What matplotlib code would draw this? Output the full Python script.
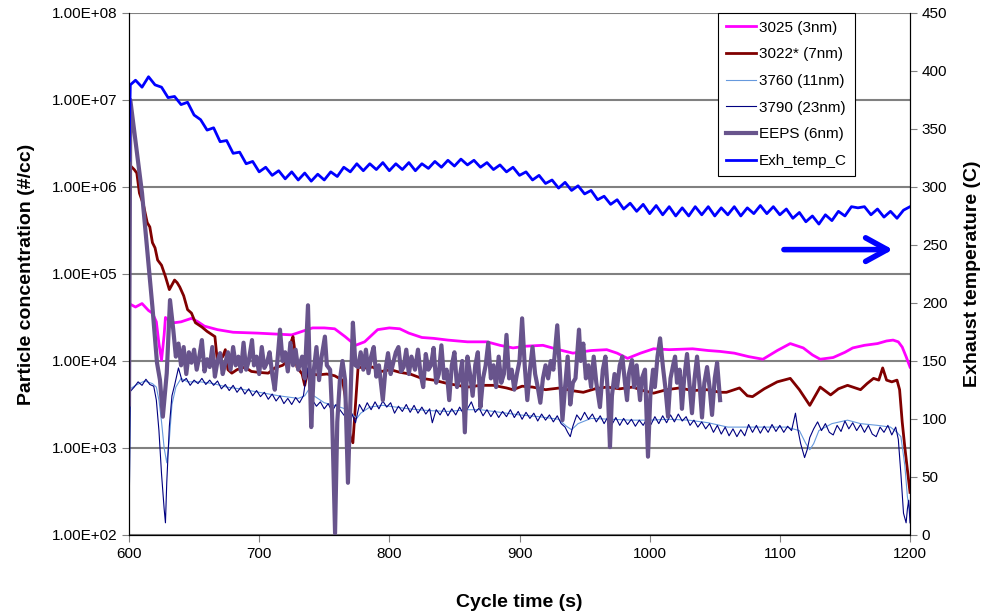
import numpy as np
import matplotlib
matplotlib.use("Agg")
import matplotlib.pyplot as plt
from matplotlib.ticker import FuncFormatter, FixedLocator, NullLocator

plt.rcParams["font.family"] = ["Liberation Sans", "DejaVu Sans"]

# particle concentrations are stored as log10(#/cc)
T_3025 = [600, 605, 610, 615, 618, 621, 623, 625, 627, 628, 632, 635, 640, 648, 653, 658, 668, 680,
          699, 712, 725, 735, 741, 750, 758, 766, 774, 781, 791, 800, 808, 815, 825, 834, 845, 860,
          875, 885, 895, 905, 918, 930, 941, 955, 967, 975, 983, 993, 1003, 1015, 1033, 1045, 1054,
          1065, 1076, 1087, 1098, 1108, 1118, 1125, 1131, 1141, 1150, 1156, 1165, 1175, 1182, 1187,
          1191, 1194, 1197, 1200]
LOG_3025 = [4.66, 4.62, 4.66, 4.58, 4.55, 4.45, 4.20, 4.01, 4.30, 4.50, 4.45, 4.44, 4.45, 4.49, 4.45,
            4.40, 4.36, 4.33, 4.32, 4.31, 4.30, 4.35, 4.38, 4.38, 4.37, 4.28, 4.18, 4.22, 4.36, 4.38,
            4.37, 4.32, 4.27, 4.26, 4.24, 4.22, 4.22, 4.18, 4.15, 4.17, 4.18, 4.13, 4.09, 4.12, 4.13,
            4.09, 4.03, 4.09, 4.14, 4.13, 4.14, 4.12, 4.11, 4.09, 4.05, 4.02, 4.12, 4.20, 4.15, 4.07,
            4.02, 4.04, 4.10, 4.15, 4.18, 4.20, 4.23, 4.24, 4.22, 4.16, 4.05, 3.93]

T_3022 = [600, 602, 604, 606, 608, 611, 614, 616, 618, 620, 622, 625, 628, 631, 635, 637, 639, 642,
          645, 648, 651, 656, 660, 666, 668, 672, 674, 676, 679, 683, 689, 694, 699, 707, 712, 718,
          722, 725, 726, 729, 733, 735, 737, 745, 752, 758, 764, 766, 768, 770, 772, 774, 776, 781,
          787, 794, 801, 808, 816, 825, 834, 845, 860, 870, 880, 890, 895, 902, 910, 920, 931, 940,
          949, 958, 967, 977, 987, 995, 1003, 1013, 1023, 1033, 1044, 1054, 1059, 1069, 1075, 1079,
          1088, 1098, 1108, 1115, 1123, 1131, 1139, 1145, 1152, 1162, 1167, 1172, 1176, 1179, 1182,
          1186, 1190, 1192, 1194, 1196, 1198, 1200]
LOG_3022 = [6.26, 6.23, 6.20, 6.16, 5.93, 5.80, 5.59, 5.54, 5.36, 5.30, 5.16, 5.10, 4.97, 4.82, 4.93,
            4.90, 4.85, 4.75, 4.59, 4.55, 4.44, 4.39, 4.34, 4.28, 3.98, 4.05, 4.13, 3.90, 3.86, 3.90,
            3.93, 3.88, 3.87, 3.86, 3.92, 3.95, 4.00, 4.24, 4.28, 3.93, 3.85, 3.72, 3.86, 3.84, 3.85,
            3.83, 3.78, 3.60, 3.30, 3.13, 3.06, 3.50, 3.93, 3.92, 3.93, 3.88, 3.90, 3.87, 3.85, 3.80,
            3.78, 3.74, 3.70, 3.72, 3.72, 3.69, 3.67, 3.71, 3.70, 3.67, 3.69, 3.66, 3.64, 3.68, 3.70,
            3.68, 3.70, 3.66, 3.63, 3.67, 3.69, 3.66, 3.67, 3.64, 3.64, 3.69, 3.60, 3.59, 3.68, 3.76,
            3.80, 3.67, 3.49, 3.70, 3.61, 3.68, 3.72, 3.67, 3.74, 3.80, 3.78, 3.92, 3.78, 3.76, 3.78,
            3.67, 3.30, 3.01, 2.75, 2.49]

T_3760 = [600, 601, 605, 612, 618, 621, 623, 625, 627, 629, 631, 633, 636, 640, 645, 655, 665, 675,
          685, 700, 715, 730, 735, 738, 742, 750, 760, 768, 772, 775, 778, 785, 795, 805, 815, 830,
          845, 860, 870, 885, 900, 915, 930, 936, 940, 945, 955, 970, 985, 1000, 1015, 1030, 1045,
          1060, 1075, 1090, 1105, 1115, 1120, 1123, 1126, 1130, 1140, 1152, 1162, 1175, 1185, 1190,
          1193, 1196, 1198, 1200]
LOG_3760 = [2.00, 3.68, 3.72, 3.77, 3.74, 3.70, 3.55, 3.30, 3.00, 2.83, 3.10, 3.50, 3.70, 3.80, 3.76,
            3.76, 3.74, 3.70, 3.68, 3.64, 3.60, 3.57, 3.60, 3.67, 3.60, 3.52, 3.48, 3.44, 3.38, 3.34,
            3.40, 3.47, 3.49, 3.47, 3.45, 3.43, 3.42, 3.44, 3.44, 3.41, 3.38, 3.36, 3.33, 3.25, 3.21,
            3.28, 3.34, 3.33, 3.32, 3.32, 3.33, 3.32, 3.29, 3.24, 3.24, 3.24, 3.24, 3.20, 3.05, 2.98,
            3.05, 3.20, 3.28, 3.32, 3.28, 3.26, 3.24, 3.18, 3.13, 2.80, 2.44, 2.25]

T_3790 = [600, 601, 604, 607, 610, 613, 616, 619, 621, 623, 625, 627, 628, 629, 631, 633, 635, 638,
          641, 644, 647, 650, 653, 656, 659, 662, 665, 668, 671, 674, 677, 680, 683, 686, 689, 692,
          695, 698, 701, 704, 707, 710, 713, 716, 719, 722, 725, 728, 731, 734, 737, 739, 741, 744,
          747, 750, 753, 756, 759, 762, 765, 768, 771, 774, 777, 780, 783, 786, 789, 792, 795, 798,
          801, 804, 807, 810, 813, 816, 819, 822, 825, 828, 831, 833, 836, 839, 842, 845, 848, 851,
          854, 857, 860, 863, 866, 869, 872, 875, 878, 881, 884, 887, 890, 893, 896, 899, 902, 905,
          908, 911, 914, 917, 920, 923, 926, 929, 932, 935, 937, 939, 941, 944, 947, 950, 953, 956,
          959, 962, 965, 968, 971, 974, 977, 980, 983, 986, 989, 992, 995, 998, 1001, 1004, 1007,
          1010, 1013, 1016, 1019, 1022, 1025, 1028, 1031, 1034, 1037, 1040, 1043, 1046, 1049, 1052,
          1055, 1058, 1061, 1064, 1067, 1070, 1073, 1076, 1079, 1082, 1085, 1088, 1091, 1094, 1097,
          1100, 1103, 1106, 1109, 1112, 1114, 1116, 1119, 1121, 1123, 1126, 1129, 1132, 1135, 1138,
          1141, 1144, 1147, 1150, 1153, 1156, 1159, 1162, 1165, 1168, 1171, 1174, 1177, 1180, 1183,
          1186, 1189, 1191, 1193, 1195, 1197, 1198, 1199, 1200]
LOG_3790 = [2.00, 3.65, 3.70, 3.76, 3.72, 3.79, 3.73, 3.71, 3.55, 3.20, 2.70, 2.30, 2.14, 2.60, 3.25,
            3.60, 3.72, 3.92, 3.76, 3.80, 3.72, 3.78, 3.74, 3.80, 3.73, 3.78, 3.72, 3.77, 3.68, 3.73,
            3.66, 3.72, 3.64, 3.70, 3.62, 3.68, 3.60, 3.66, 3.59, 3.64, 3.56, 3.62, 3.54, 3.60, 3.51,
            3.57, 3.50, 3.58, 3.52, 3.60, 3.92, 3.62, 3.55, 3.48, 3.53, 3.45, 3.51, 3.42, 3.50, 3.44,
            3.38, 3.33, 3.40, 3.29, 3.50, 3.42, 3.52, 3.44, 3.53, 3.45, 3.54, 3.47, 3.52, 3.40, 3.48,
            3.42, 3.50, 3.41, 3.49, 3.40, 3.47, 3.39, 3.45, 3.29, 3.44, 3.38, 3.46, 3.37, 3.45, 3.38,
            3.47, 3.39, 3.45, 3.53, 3.41, 3.46, 3.37, 3.44, 3.36, 3.43, 3.35, 3.42, 3.36, 3.44, 3.35,
            3.42, 3.33, 3.41, 3.34, 3.40, 3.31, 3.39, 3.32, 3.38, 3.30, 3.37, 3.28, 3.24, 3.18, 3.13,
            3.25, 3.38, 3.32, 3.41, 3.33, 3.39, 3.30, 3.37, 3.28, 3.36, 3.27, 3.35, 3.26, 3.34, 3.27,
            3.33, 3.25, 3.32, 3.26, 3.34, 3.27, 3.36, 3.28, 3.37, 3.29, 3.38, 3.30, 3.39, 3.31, 3.36,
            3.26, 3.32, 3.24, 3.30, 3.22, 3.28, 3.18, 3.26, 3.16, 3.24, 3.14, 3.22, 3.13, 3.21, 3.14,
            3.27, 3.18, 3.26, 3.17, 3.25, 3.18, 3.27, 3.19, 3.26, 3.18, 3.25, 3.20, 3.40, 3.20, 3.05,
            2.89, 2.98, 3.12, 3.22, 3.30, 3.20, 3.28, 3.18, 3.15, 3.26, 3.19, 3.31, 3.22, 3.29, 3.20,
            3.27, 3.18, 3.26, 3.16, 3.13, 3.24, 3.18, 3.26, 3.15, 3.24, 3.10, 2.70, 2.25, 2.14, 2.30,
            2.40, 2.14]

T_EEPS = [600, 601, 610, 618, 621.5, 623.8, 626, 629, 631.5, 634, 636, 638, 640, 642, 644, 646, 648,
          650, 652, 654, 656, 658, 660, 662, 664, 666, 668, 670, 672, 674, 676, 678, 680, 682, 684,
          686, 688, 690, 692, 694.5, 696, 698, 700, 702, 704, 706, 708, 710, 712, 714, 716, 718, 720,
          722, 724, 726, 728, 730, 733, 735, 737.5, 740, 742, 744, 746, 748, 750.5, 752, 754.5, 756,
          758.3, 760, 762, 764, 766, 768.2, 770, 772, 774, 776, 778, 780, 782, 784, 786, 788, 790,
          792, 795, 797, 799, 801, 803, 805, 807, 809, 811, 813, 815, 817, 819.7, 822, 824, 826, 828,
          830, 832, 834, 836, 838, 840, 842, 844, 846, 848, 850, 852, 854, 856, 858, 860, 862, 864,
          866, 868, 870, 872, 874, 876, 878, 880, 882, 884, 886, 888, 890, 892, 894, 896, 898, 900,
          902, 904, 906, 908, 910, 912, 914, 916, 918, 920, 922, 924, 926, 929, 931, 933, 935, 937,
          939, 941, 943, 945.7, 947, 949, 951, 953, 955, 957, 959, 961.8, 964, 966, 968, 969.5, 971,
          973, 975, 977, 979, 981, 982.6, 984, 986.4, 988, 990, 992.6, 994, 996.4, 998.7, 1000.5,
          1002.6, 1004, 1006, 1008, 1010.2, 1012, 1014.1, 1016, 1018, 1019.5, 1021, 1023, 1024.8,
          1026.5, 1028.7, 1030.5, 1032.5, 1034.5, 1036.4, 1038.5, 1040.2, 1042, 1044.1, 1046,
          1047.9, 1050, 1051.8, 1054.1]
LOG_EEPS = [3.50, 7.00, 5.93, 4.62, 3.98, 3.78, 3.36, 3.86, 4.70, 4.36, 4.05, 4.20, 3.95, 4.16, 3.85,
            4.10, 3.98, 4.13, 3.90, 4.05, 4.24, 3.88, 4.02, 3.93, 4.16, 3.82, 4.00, 4.09, 3.85, 3.98,
            4.10, 3.90, 4.16, 3.95, 4.05, 3.88, 4.21, 3.90, 4.00, 4.24, 3.95, 4.05, 3.85, 4.16, 3.92,
            3.98, 4.10, 3.85, 3.67, 4.00, 4.36, 4.00, 4.10, 3.88, 4.21, 3.95, 4.13, 3.90, 4.05, 3.80,
            4.64, 3.24, 3.90, 4.16, 3.78, 4.05, 4.28, 3.95, 3.90, 3.40, 2.02, 3.30, 3.78, 4.00, 3.78,
            2.60, 3.50, 4.44, 3.95, 3.93, 4.10, 3.90, 4.13, 3.86, 4.05, 4.16, 3.82, 3.95, 3.55, 3.90,
            4.09, 3.85, 3.98, 4.10, 4.16, 3.88, 3.93, 4.13, 3.85, 4.05, 3.90, 4.13, 3.85, 3.70, 4.08,
            3.90, 3.95, 4.15, 3.75, 3.85, 4.18, 3.80, 3.90, 3.55, 3.95, 4.10, 3.70, 3.80, 4.00, 3.18,
            4.05, 3.85, 3.60, 3.95, 4.10, 3.47, 3.80, 3.95, 4.21, 3.80, 3.95, 3.70, 4.05, 3.75, 3.85,
            4.30, 3.80, 3.90, 3.67, 3.85, 4.00, 4.49, 3.95, 3.55, 3.90, 4.16, 3.85, 3.70, 3.52, 3.80,
            3.95, 3.80, 4.00, 3.90, 4.41, 3.90, 3.32, 3.70, 4.05, 3.50, 3.75, 3.80, 4.36, 4.00, 4.20,
            3.80, 3.95, 3.70, 4.05, 3.75, 3.47, 3.90, 4.05, 3.60, 3.01, 3.60, 3.85, 3.70, 3.95, 4.05,
            3.75, 3.55, 3.85, 4.01, 3.70, 3.95, 3.55, 3.80, 3.90, 2.90, 3.60, 3.90, 3.70, 4.05, 4.26,
            3.93, 3.70, 3.36, 3.80, 3.95, 4.05, 3.75, 3.90, 3.45, 3.80, 4.08, 3.75, 3.40, 3.80, 4.05,
            3.70, 3.35, 3.75, 3.93, 3.70, 3.38, 3.80, 3.98, 3.55]

T_TEMP = [600, 601, 605, 610, 615, 620, 625, 630, 635, 640, 645, 650, 655, 660, 665, 670, 675, 680,
          685, 690, 695, 700, 705, 710, 715, 720, 725, 730, 735, 740, 745, 750, 755, 760, 765, 770,
          775, 780, 785, 790, 795, 800, 805, 810, 815, 820, 825, 830, 835, 840, 845, 850, 855, 860,
          865, 870, 875, 880, 885, 890, 895, 900, 905, 910, 915, 920, 925, 930, 935, 940, 945, 950,
          955, 960, 965, 970, 975, 980, 985, 990, 995, 1000, 1005, 1010, 1015, 1020, 1025, 1030,
          1035, 1040, 1045, 1050, 1055, 1060, 1065, 1070, 1075, 1080, 1085, 1090, 1095, 1100, 1105,
          1110, 1115, 1120, 1125, 1130, 1135, 1140, 1145, 1150, 1155, 1160, 1165, 1170, 1175, 1180,
          1185, 1190, 1195, 1200]
TEMP_C = [323, 388, 392, 386, 395, 388, 386, 377, 378, 371, 373, 362, 358, 349, 351, 339, 340, 329,
          330, 320, 322, 313, 317, 310, 314, 307, 313, 306, 312, 305, 311, 306, 313, 309, 317, 313,
          320, 314, 320, 315, 321, 314, 320, 315, 321, 314, 320, 316, 322, 317, 323, 318, 324, 319,
          323, 317, 321, 315, 319, 313, 317, 310, 313, 306, 310, 303, 306, 299, 304, 297, 301, 294,
          297, 289, 292, 285, 289, 281, 286, 279, 285, 277, 284, 276, 283, 275, 282, 275, 283, 276,
          283, 275, 282, 276, 283, 275, 282, 277, 284, 277, 283, 276, 281, 273, 278, 270, 275, 268,
          276, 271, 279, 275, 283, 282, 283, 276, 281, 274, 279, 273, 280, 283]

SERIES = [
    ("3025 (3nm)", T_3025, LOG_3025, "#FF00FF", 2.0),
    ("3022* (7nm)", T_3022, LOG_3022, "#800000", 2.0),
    ("3760 (11nm)", T_3760, LOG_3760, "#6699DD", 0.8),
    ("3790 (23nm)", T_3790, LOG_3790, "#000080", 0.8),
    ("EEPS (6nm)", T_EEPS, LOG_EEPS, "#68548C", 3.0),
]

fig = plt.figure(figsize=(9.87, 6.16), dpi=100)
ax = fig.add_axes([0.1307, 0.1315, 0.7913, 0.8475])

handles = []
for label, t, lg, color, lw in SERIES:
    h, = ax.plot(t, 10 ** np.array(lg), color=color, linewidth=lw, label=label)
    handles.append(h)

ax.set_yscale("log")
ax.set_ylim(1e2, 1e8)
ax.set_xlim(600, 1200)
ax.yaxis.set_major_locator(FixedLocator([1e2, 1e3, 1e4, 1e5, 1e6, 1e7, 1e8]))
ax.yaxis.set_minor_locator(NullLocator())
ax.yaxis.set_major_formatter(FuncFormatter(lambda v, p: f"{v:.2E}"))
ax.set_xticks(range(600, 1201, 100))
ax.grid(axis="y", color="#808080", linewidth=1.5)
ax.set_axisbelow(True)
ax.spines["top"].set_visible(False)
ax.tick_params(axis="both", direction="out", length=5, color="#808080", labelsize=11)
ax.set_xlabel("Cycle time (s)", fontsize=14, fontweight="bold", labelpad=24)
ax.set_ylabel("Particle concentration (#/cc)", fontsize=14, fontweight="bold", labelpad=12)

ax2 = ax.twinx()
h, = ax2.plot(T_TEMP, TEMP_C, color="#0000FF", linewidth=2.0, label="Exh_temp_C")
handles.append(h)
ax2.set_ylim(0, 450)
ax2.set_yticks(range(0, 451, 50))
ax2.spines["top"].set_visible(False)
ax2.tick_params(axis="y", direction="out", length=5, color="#808080", labelsize=11)
ax2.set_ylabel("Exhaust temperature (C)", fontsize=14, fontweight="bold", labelpad=12)

ax2.annotate("", xy=(1189, 246), xytext=(1101, 246),
             arrowprops=dict(arrowstyle="->,head_length=0.62,head_width=0.34",
                             color="#0000FF", lw=4, mutation_scale=25))

leg = ax2.legend(handles=handles, loc="upper left", bbox_to_anchor=(0.754, 1.0),
                 borderaxespad=0, fontsize=11, labelspacing=0.83, handlelength=2.0,
                 handletextpad=0.2, fancybox=False, framealpha=1, edgecolor="black",
                 borderpad=0.5)
leg.get_frame().set_linewidth(0.8)

fig.savefig("out.png", dpi=100)
